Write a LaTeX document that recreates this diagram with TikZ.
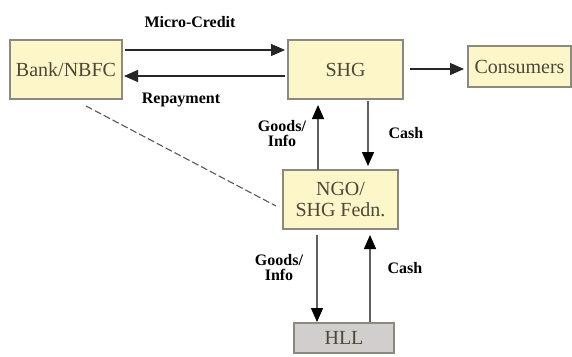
\documentclass[tikz,border=0pt]{standalone}
\usepackage{fontspec}
\setmainfont{Liberation Serif}
\usetikzlibrary{arrows.meta}
\definecolor{boxfill}{HTML}{FDF6C8}
\definecolor{hllfill}{HTML}{D2CECE}
\definecolor{boxline}{HTML}{8A8A80}
\definecolor{boxtext}{HTML}{4A4838}
\begin{document}
\begin{tikzpicture}[x=1pt,y=-1pt,
  blk/.style={draw=boxline,line width=1.2pt,fill=boxfill,text=boxtext,inner sep=0pt,font=\fontsize{20}{21}\selectfont,align=center},
  lbl/.style={font=\bfseries\fontsize{16}{15}\selectfont,align=center,inner sep=0pt},
  arr/.style={line width=1.4pt,draw=black!85,-{Triangle[length=14pt,width=12pt]}},
  garr/.style={line width=1.4pt,draw=gray!75!black,-{Triangle[length=14pt,width=12pt,color=black]}}]
\useasboundingbox[fill=white] (0,0) rectangle (572,356);
\node[blk,minimum width=112pt,minimum height=59pt] (bank) at (66,69.5) {Bank/NBFC};
\node[blk,minimum width=115pt,minimum height=59pt] (shg) at (345.5,69.5) {SHG};
\node[blk,minimum width=103pt,minimum height=41pt] (cons) at (519.5,66.5) {Consumers};
\node[blk,minimum width=115pt,minimum height=59pt] (ngo) at (340.5,199.5) {NGO/\\SHG Fedn.};
\node[blk,fill=hllfill,minimum width=100pt,minimum height=30pt] (hll) at (344,338) {HLL};
\coordinate (b1) at (125,50); \coordinate (s1) at (285,50);
\coordinate (b2) at (124,76); \coordinate (s2) at (285,76);
\draw[arr] (b1) -- (s1);
\draw[arr] (s2) -- (b2);
\node[lbl] (mc) at (190,22) {Micro-Credit};
\node[lbl] (rp) at (181,100) {Repayment};
\coordinate (sc1) at (410,69); \coordinate (sc2) at (464,69);
\draw[arr] (sc1) -- (sc2);
\coordinate (u1) at (318,170); \coordinate (u2) at (318,105);
\draw[garr] (u1) -- (u2);
\node[lbl] (gi1) at (282,134) {Goods/\\Info};
\coordinate (d1) at (368,101); \coordinate (d2) at (368,166);
\draw[garr] (d1) -- (d2);
\node[lbl] (c1) at (406,133) {Cash};
\coordinate (d3) at (317,235); \coordinate (d4) at (317,322);
\draw[garr] (d3) -- (d4);
\node[lbl] (gi2) at (279,268) {Goods/\\Info};
\coordinate (u3) at (370,322); \coordinate (u4) at (370,235);
\draw[garr] (u3) -- (u4);
\node[lbl] (c2) at (405,268) {Cash};
\coordinate (ds1) at (86,106); \coordinate (ds2) at (276,206);
\draw[line width=1.1pt,draw=black!65,dash pattern=on 7pt off 3pt] (ds1) -- (ds2);
\end{tikzpicture}
\end{document}
